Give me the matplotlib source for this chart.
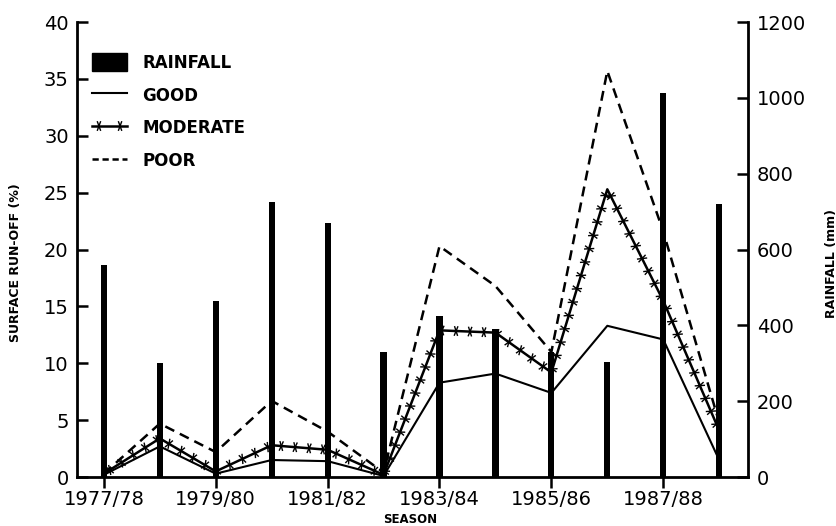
import numpy as np
import matplotlib
matplotlib.use('Agg')
import matplotlib.pyplot as plt
import matplotlib.patches as mpatches
import matplotlib.patheffects as pe
from matplotlib.lines import Line2D

seasons = ['1977/78', '1978/79', '1979/80', '1980/81', '1981/82', '1982/83',
           '1983/84', '1984/85', '1985/86', '1986/87', '1987/88', '1988/89']
rainfall = [560, 300, 465, 725, 670, 330, 425, 390, 330, 303, 1012, 720]
good = [0.2, 2.7, 0.3, 1.5, 1.4, 0.1, 8.3, 9.1, 7.4, 13.3, 12.1, 1.5]
moderate = [0.3, 3.4, 0.5, 2.8, 2.4, 0.2, 12.9, 12.7, 9.2, 25.3, 15.5, 4.1]
poor = [0.3, 4.7, 2.2, 6.7, 4.0, 0.4, 20.3, 16.8, 11.0, 35.7, 21.6, 4.8]
tick_labels = ['1977/78', '1979/80', '1981/82', '1983/84', '1985/86', '1987/88']

x = np.arange(len(seasons))

plt.rcParams['font.family'] = 'DejaVu Sans'
fig = plt.figure(figsize=(8.37, 5.26), dpi=100)
ax = fig.add_axes([0.092, 0.093, 0.802, 0.865])
ax2 = ax.twinx()

# rainfall bars on the right scale
ax2.bar(x, rainfall, width=0.11, color='black', zorder=1)
ax2.set_ylim(0, 1200)
ax2.set_yticks([0, 200, 400, 600, 800, 1000, 1200])

# small crosses along the moderate line
ticked = [pe.Stroke()] + [pe.TickedStroke(spacing=10, angle=a, length=0.32, linewidth=1.0)
                          for a in (70, -110, 110, -70)]

# runoff lines on the left scale, drawn above the bars
ax.set_zorder(ax2.get_zorder() + 1)
ax.patch.set_visible(False)
ax.plot(x, good, color='black', lw=1.5)
ax.plot(x, moderate, color='black', lw=1.8, path_effects=ticked)
ax.plot(x, poor, color='black', lw=1.8, ls=(0, (4, 2.5)))

ax.set_xlim(-0.48, 11.52)
ax.set_ylim(0, 40)
ax.set_yticks(range(0, 41, 5))
ax.set_xticks(range(0, 11, 2))
ax.set_xticklabels(tick_labels)

for a in (ax, ax2):
    a.spines['top'].set_visible(False)
    for s in a.spines.values():
        s.set_linewidth(2)
ax.spines['right'].set_visible(False)
ax2.spines['left'].set_visible(False)
ax2.spines['bottom'].set_visible(False)

ax.tick_params(axis='y', direction='in', length=8, width=1.8, labelsize=14, pad=6)
ax.tick_params(axis='x', direction='out', length=8, width=1.8, labelsize=14, pad=1)
ax2.tick_params(axis='y', direction='in', length=8, width=1.8, labelsize=14, pad=6)

fig.text(0.018, 0.5, 'SURFACE RUN-OFF (%)', rotation=90, ha='center', va='center',
         fontsize=9, fontweight='bold')
fig.text(0.993, 0.5, 'RAINFALL (mm)', rotation=90, ha='center', va='center',
         fontsize=9, fontweight='bold')
fig.text(0.49, 0.0, 'SEASON', ha='center', va='bottom', fontsize=8.5, fontweight='bold')

handles = [mpatches.Patch(color='black', label='RAINFALL'),
           Line2D([], [], color='black', lw=1.5, label='GOOD'),
           Line2D([], [], color='black', lw=1.8, path_effects=ticked, label='MODERATE'),
           Line2D([], [], color='black', lw=1.8, ls=(0, (2.5, 1.5)), label='POOR')]
leg = ax.legend(handles=handles, loc='upper left', bbox_to_anchor=(0.0, 0.965),
                frameon=False, fontsize=12, handlelength=2.1, handleheight=1.3,
                labelspacing=0.85, handletextpad=0.9)
for t in leg.get_texts():
    t.set_fontweight('bold')

fig.savefig('out.png', dpi=100)
